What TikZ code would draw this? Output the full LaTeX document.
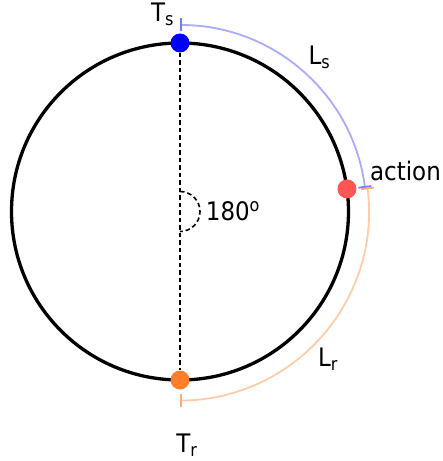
\documentclass[tikz,border=0pt]{standalone}
\usepackage{fontspec}
\setmainfont[FakeStretch=0.9]{DejaVu Sans}
\usetikzlibrary{arrows.meta}
\definecolor{lblue}{HTML}{AAAAFF}
\definecolor{tblue}{HTML}{7777FF}
\definecolor{lorange}{HTML}{FFCCAA}
\definecolor{torange}{HTML}{FFAA77}
\definecolor{dotorange}{HTML}{FF7F2A}
\definecolor{dotred}{HTML}{FF5555}
\begin{document}
\begin{tikzpicture}[x=1pt,y=1pt,
  dot/.style={circle,inner sep=0pt,minimum size=19pt},
  lbl/.style={font=\fontsize{25.5}{30}\selectfont,inner sep=0pt},
  dsh/.style={line width=1.6pt,dash pattern=on 4.5pt off 3pt},
  barline/.style={line width=1.8pt,{Bar[width=13pt,line width=1.8pt,color=#1]}-{Bar[width=13pt,line width=1.8pt,color=#1]}}]
\useasboundingbox (-180,-249.5) rectangle (263,211.5);
\coordinate (c) at (0,0);
\draw[line width=3.3pt] (c) circle (168.5);
\node[dot,fill=blue] (ts) at (90:168.5) {};
\node[dot,fill=dotorange] (tr) at (-90:168.5) {};
\node[dot,fill=dotred] (act) at (7.7:168.5) {};
\draw[dsh] (ts) -- (tr);
\draw[dsh] (0,20) arc (90:-90:20);
\draw[barline=tblue,lblue] (90:186.5) arc (90:7.3:186.5);
\draw[barline=torange,lorange] (7.3:189) arc (7.3:-90:189);
\node[lbl] (tslbl) at (-17.5,197) {T\textsubscript{s}};
\node[lbl] (lslbl) at (139.5,154.5) {L\textsubscript{s}};
\node[lbl] (actlbl) at (225.5,41) {action};
\node[lbl] (anglbl) at (53,0.5) {180\textsuperscript{o}};
\node[lbl] (lrlbl) at (148,-147.5) {L\textsubscript{r}};
\node[lbl] (trlbl) at (7,-233.5) {T\textsubscript{r}};
\end{tikzpicture}
\end{document}
